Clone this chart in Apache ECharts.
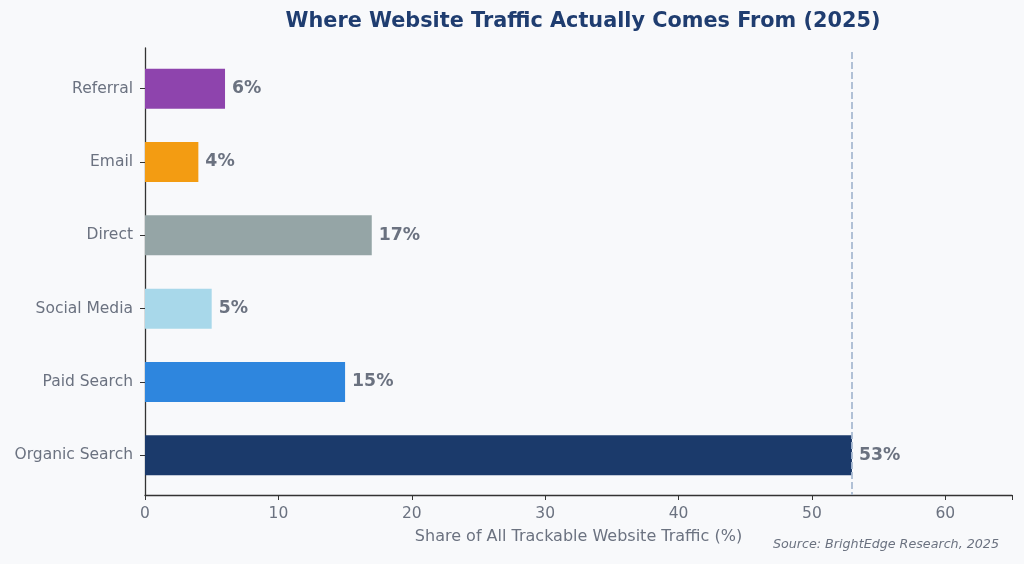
<!DOCTYPE html>
<html>
<head>
<meta charset="utf-8">
<script src="https://cdn.jsdelivr.net/npm/echarts@6/dist/echarts.min.js"></script>
<style>
  html, body { margin: 0; padding: 0; background: #f8f9fb; }
  #traffic_chart { width: 1024px; height: 564px; }
</style>
</head>
<body>
<div id="traffic_chart"></div>
<script>
// channels, bottom to top as drawn
var channels = ["Organic Search", "Paid Search", "Social Media", "Direct", "Email", "Referral"];
var shares = [53, 15, 5, 17, 4, 6];
var barColors = ["#1b3a6b", "#2e86de", "#a8d8ea", "#95a5a6", "#f39c12", "#8e44ad"];
var xTicks = [0, 10, 20, 30, 40, 50, 60];
var xMax = 65;
var topShare = 53;

traffic_chart();

function traffic_chart(){
        var chart = echarts.init(document.getElementById('traffic_chart'));

        var barData = new Array();
        for (var i = 0; i < shares.length; i++) {
                barData.push({value: shares[i], itemStyle: {color: barColors[i]}});
        }

        var axisColor = '#333333';
        var textGrey = '#6b7280';

        var option = {
            backgroundColor: '#f8f9fb',
            textStyle: {fontFamily: 'DejaVu Sans'},
            title: [{
                    text: 'Where Website Traffic Actually Comes From (2025)',
                    left: 578,
                    top: 6,
                    textAlign: 'center',
                    textStyle: {color: '#1f3d70', fontSize: 20.8, fontWeight: 'bold', fontFamily: 'DejaVu Sans'}
            }, {
                    text: 'Source: BrightEdge Research, 2025',
                    right: 20,
                    bottom: 8,
                    textStyle: {color: textGrey, fontSize: 12.7, fontStyle: 'italic', fontWeight: 'normal', fontFamily: 'DejaVu Sans'}
            }],
            // grid 0 holds the bars (bands a bit inset like the reference),
            // grid 1 is the full frame with the axis lines and the x scale
            grid: [
                {left: 145, right: 12, top: 52, bottom: 72},
                {left: 145, right: 12, top: 48, bottom: 69}
            ],
            xAxis: [{
                    gridIndex: 0,
                    type: 'value',
                    min: 0,
                    max: xMax,
                    show: false
            }, {
                    gridIndex: 1,
                    type: 'value',
                    min: 0,
                    max: xMax,
                    interval: 10,
                    name: 'Share of All Trackable Website Traffic (%)',
                    nameLocation: 'middle',
                    nameGap: 34,
                    nameTextStyle: {color: textGrey, fontSize: 16},
                    splitLine: {show: false},
                    axisLine: {show: true, lineStyle: {color: axisColor, width: 1.3}},
                    axisTick: {show: true, length: 5, lineStyle: {color: axisColor}},
                    axisLabel: {
                            color: textGrey, fontSize: 15.5, margin: 11,
                            formatter: function(v){ return xTicks.indexOf(v) >= 0 ? String(v) : ''; }
                    }
            }],
            yAxis: [{
                    gridIndex: 0,
                    type: 'category',
                    data: channels,
                    axisLine: {show: false},
                    axisTick: {show: true, alignWithLabel: true, length: 5, lineStyle: {color: axisColor}},
                    axisLabel: {color: textGrey, fontSize: 15.5, margin: 12}
            }, {
                    gridIndex: 1,
                    type: 'value',
                    min: 0,
                    max: 1,
                    splitLine: {show: false},
                    axisTick: {show: false},
                    axisLabel: {show: false},
                    axisLine: {show: true, lineStyle: {color: axisColor, width: 1.3}}
            }],
            series: [{
                    name: 'share',
                    type: 'bar',
                    xAxisIndex: 0,
                    yAxisIndex: 0,
                    barWidth: 40,
                    data: barData,
                    label: {
                            show: true,
                            position: 'right',
                            distance: 7,
                            formatter: '{c}%',
                            color: textGrey,
                            fontSize: 17.3,
                            fontWeight: 'bold'
                    }
            }, {
                    // dashed marker at the leading share, drawn in the bar grid
                    name: 'top',
                    type: 'line',
                    xAxisIndex: 0,
                    yAxisIndex: 0,
                    data: [],
                    markLine: {
                            silent: true,
                            symbol: ['none', 'none'],
                            label: {show: false},
                            lineStyle: {color: '#a9bbd2', type: [7, 3], width: 1.8},
                            data: [[{xAxis: topShare, y: 52}, {xAxis: topShare, y: 495}]]
                    }
            }]
        };
        chart.setOption(option);
}
</script>
</body>
</html>
